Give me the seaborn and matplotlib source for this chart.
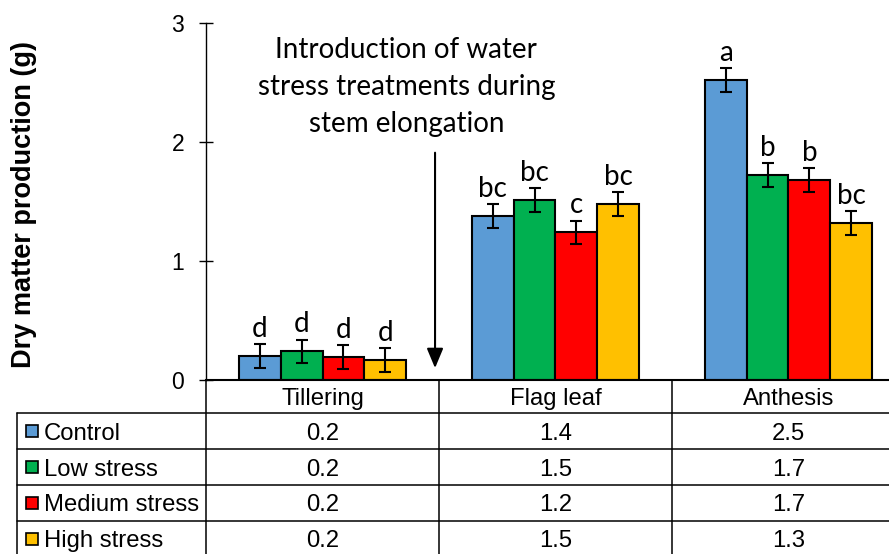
import matplotlib
matplotlib.use("Agg")
import matplotlib.pyplot as plt
import matplotlib.transforms as mtransforms
from matplotlib.lines import Line2D
from matplotlib.patches import Rectangle
import seaborn as sns
import pandas as pd

# ---- data -------------------------------------------------------------
stages = ["Tillering", "Flag leaf", "Anthesis"]
treatments = ["Control", "Low stress", "Medium stress", "High stress"]

control = [0.20, 1.38, 2.52]
low_stress = [0.24, 1.51, 1.72]
medium_stress = [0.19, 1.24, 1.68]
high_stress = [0.17, 1.48, 1.32]

control_err = [0.10, 0.10, 0.10]
low_err = [0.10, 0.10, 0.10]
medium_err = [0.10, 0.10, 0.10]
high_err = [0.10, 0.10, 0.10]

control_letters = ["d", "bc", "a"]
low_letters = ["d", "bc", "b"]
medium_letters = ["d", "c", "b"]
high_letters = ["d", "bc", "bc"]

colors = ["#5B9BD5", "#00B050", "#FF0000", "#FFC000"]
y_ticks = [0, 1, 2, 3]

series = [control, low_stress, medium_stress, high_stress]
errors = [control_err, low_err, medium_err, high_err]
letters = [control_letters, low_letters, medium_letters, high_letters]

# ---- style ------------------------------------------------------------
sns.set_theme(style="white")
plt.rcParams["font.family"] = ["Liberation Sans", "DejaVu Sans"]
CAL = ["Lato", "DejaVu Sans"]

W, H = 889, 554
fig = plt.figure(figsize=(W / 100, H / 100), dpi=100)


def fx(px):
    return px / W


def fy(py):
    return 1 - py / H


ax = fig.add_axes([fx(206), fy(380), 699 / W, 357 / H])

df = pd.DataFrame({
    "stage": stages * len(treatments),
    "treatment": [t for t in treatments for _ in stages],
    "value": [v for s in series for v in s],
})

sns.barplot(data=df, x="stage", y="value", hue="treatment",
            order=stages, hue_order=treatments, palette=colors,
            saturation=1, width=0.72, edgecolor="black", linewidth=1.5,
            errorbar=None, legend=False, ax=ax, zorder=2)

# error bars and significance letters
for cont, vals, errs, lets in zip(ax.containers, series, errors, letters):
    for patch, v, e, l in zip(cont.patches, vals, errs, lets):
        xc = patch.get_x() + patch.get_width() / 2
        ax.errorbar(xc, v, yerr=e, fmt="none", ecolor="black",
                    elinewidth=1.5, capsize=4, capthick=1.5, zorder=3)
        ax.annotate(l, (xc, v + e), xytext=(0, 1.5), textcoords="offset points",
                    ha="center", va="bottom", fontsize=20, family=CAL,
                    color="black")

ax.set_xlim(-0.5, 2.5)
ax.set_ylim(0, 3)
ax.set_yticks(y_ticks)
ax.set_xticks([])
ax.set_xlabel("")
ax.tick_params(axis="y", left=True, direction="inout", length=9.4, width=1,
               color="black", labelsize=16.5, labelcolor="black", pad=11)
for side in ["top", "right"]:
    ax.spines[side].set_visible(False)
ax.spines["left"].set_color("black")
ax.spines["left"].set_linewidth(1)
ax.spines["bottom"].set_color("black")
ax.spines["bottom"].set_linewidth(1.5)

ax.set_ylabel("Dry matter production (g)", fontsize=19.5, fontweight="bold",
              color="black")
ax.yaxis.label.set(va="center", rotation_mode="anchor")
ax.yaxis.set_label_coords((24 - 206) / 699, (380 - 204) / 357)

# annotation about treatment timing
ax.text(0.36, 2.88, "Introduction of water\nstress treatments during\nstem elongation",
        ha="center", va="top", fontsize=20, family=CAL, linespacing=1.52,
        color="black")
ax.annotate("", xy=(0.483, 0.10), xytext=(0.483, 1.91),
            arrowprops=dict(arrowstyle="-|>,head_length=0.6,head_width=0.25",
                            color="black", lw=1.5, mutation_scale=20,
                            shrinkA=0, shrinkB=0))

# ---- data table beneath the axis -------------------------------------
blend = mtransforms.blended_transform_factory(ax.transData, fig.transFigure)
LW = 1.1


def hline(y, x0, x1):
    fig.add_artist(Line2D([fx(x0), fx(x1)], [fy(y), fy(y)], color="black",
                          lw=LW, transform=fig.transFigure))


def vline(x, y0, y1):
    fig.add_artist(Line2D([fx(x), fx(x)], [fy(y0), fy(y1)], color="black",
                          lw=LW, transform=fig.transFigure))


row_lines = [413, 449, 485, 521, 557]
for y in row_lines:
    hline(y, 17, W + 5)
vline(17, 413, H + 5)
vline(206, 380, H + 5)
for xd in [0.5, 1.5]:
    fig.add_artist(Line2D([xd, xd], [fy(380), fy(H + 5)], color="black",
                          lw=LW, transform=blend))

TS = 17.2
for i, st in enumerate(stages):
    fig.text(i, fy(405), st, transform=blend, ha="center", va="baseline",
             fontsize=TS, color="black")

baselines = [440, 476, 511, 547]
for k, (name, col, vals, base) in enumerate(zip(treatments, colors, series, baselines)):
    cy = row_lines[k] + 18
    fig.add_artist(Rectangle((fx(26), fy(cy + 6)), 12 / W, 12 / H,
                             facecolor=col, edgecolor="black", lw=1.2,
                             transform=fig.transFigure))
    fig.text(fx(44), fy(base), name, ha="left", va="baseline",
             fontsize=TS, color="black")
    for i, v in enumerate(vals):
        fig.text(i, fy(base), f"{v:.1f}", transform=blend, ha="center",
                 va="baseline", fontsize=TS, color="black")

fig.savefig("out.png", dpi=100)
